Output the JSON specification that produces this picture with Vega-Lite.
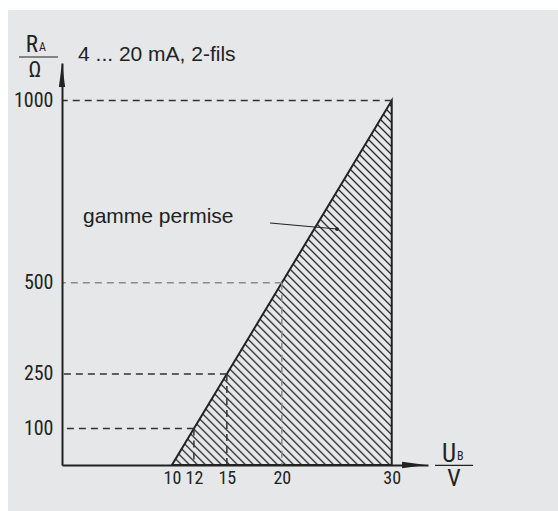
{
  "$schema": "https://vega.github.io/schema/vega-lite/v6.json",
  "width": 366,
  "height": 402,
  "autosize": {"type": "none"},
  "padding": {"left": 62, "top": 63, "right": 130, "bottom": 46},
  "background": "#ffffff",
  "config": {"view": {"stroke": null}},
  "datasets": {
    "refs": [
      {"ub": 12, "ra": 100},
      {"ub": 15, "ra": 250},
      {"ub": 20, "ra": 500},
      {"ub": 30, "ra": 1000}
    ],
    "region": [
      {"ub": 10, "ra": 0},
      {"ub": 30, "ra": 1000}
    ],
    "one": [{}]
  },
  "layer": [
    {
      "data": {"name": "one"},
      "mark": {"type": "rect", "color": "#e6e7e9", "clip": false},
      "encoding": {
        "x": {"datum": -4.91, "type": "quantitative"},
        "x2": {"datum": 60},
        "y": {"datum": 1248.4, "type": "quantitative"},
        "y2": {"datum": -300}
      }
    },
    {
      "data": {"name": "region"},
      "mark": {
        "type": "area",
        "stroke": "#222",
        "strokeWidth": 2,
        "color": {
          "gradient": "linear",
          "x1": 0, "y1": 1, "x2": 0.7089, "y2": -0.1755,
          "stops": [
            {"offset":0.0000,"color":"#e6e7e9"},{"offset":0.0030,"color":"#222"},{"offset":0.0060,"color":"#e6e7e9"},
            {"offset":0.0137,"color":"#e6e7e9"},{"offset":0.0167,"color":"#222"},{"offset":0.0197,"color":"#e6e7e9"},
            {"offset":0.0274,"color":"#e6e7e9"},{"offset":0.0304,"color":"#222"},{"offset":0.0334,"color":"#e6e7e9"},
            {"offset":0.0411,"color":"#e6e7e9"},{"offset":0.0441,"color":"#222"},{"offset":0.0471,"color":"#e6e7e9"},
            {"offset":0.0548,"color":"#e6e7e9"},{"offset":0.0578,"color":"#222"},{"offset":0.0608,"color":"#e6e7e9"},
            {"offset":0.0685,"color":"#e6e7e9"},{"offset":0.0715,"color":"#222"},{"offset":0.0745,"color":"#e6e7e9"},
            {"offset":0.0822,"color":"#e6e7e9"},{"offset":0.0852,"color":"#222"},{"offset":0.0882,"color":"#e6e7e9"},
            {"offset":0.0959,"color":"#e6e7e9"},{"offset":0.0989,"color":"#222"},{"offset":0.1019,"color":"#e6e7e9"},
            {"offset":0.1096,"color":"#e6e7e9"},{"offset":0.1126,"color":"#222"},{"offset":0.1156,"color":"#e6e7e9"},
            {"offset":0.1233,"color":"#e6e7e9"},{"offset":0.1263,"color":"#222"},{"offset":0.1293,"color":"#e6e7e9"},
            {"offset":0.1370,"color":"#e6e7e9"},{"offset":0.1400,"color":"#222"},{"offset":0.1430,"color":"#e6e7e9"},
            {"offset":0.1507,"color":"#e6e7e9"},{"offset":0.1537,"color":"#222"},{"offset":0.1567,"color":"#e6e7e9"},
            {"offset":0.1644,"color":"#e6e7e9"},{"offset":0.1674,"color":"#222"},{"offset":0.1704,"color":"#e6e7e9"},
            {"offset":0.1781,"color":"#e6e7e9"},{"offset":0.1811,"color":"#222"},{"offset":0.1841,"color":"#e6e7e9"},
            {"offset":0.1918,"color":"#e6e7e9"},{"offset":0.1948,"color":"#222"},{"offset":0.1978,"color":"#e6e7e9"},
            {"offset":0.2055,"color":"#e6e7e9"},{"offset":0.2085,"color":"#222"},{"offset":0.2115,"color":"#e6e7e9"},
            {"offset":0.2192,"color":"#e6e7e9"},{"offset":0.2222,"color":"#222"},{"offset":0.2252,"color":"#e6e7e9"},
            {"offset":0.2329,"color":"#e6e7e9"},{"offset":0.2359,"color":"#222"},{"offset":0.2389,"color":"#e6e7e9"},
            {"offset":0.2466,"color":"#e6e7e9"},{"offset":0.2496,"color":"#222"},{"offset":0.2526,"color":"#e6e7e9"},
            {"offset":0.2603,"color":"#e6e7e9"},{"offset":0.2633,"color":"#222"},{"offset":0.2663,"color":"#e6e7e9"},
            {"offset":0.2740,"color":"#e6e7e9"},{"offset":0.2770,"color":"#222"},{"offset":0.2800,"color":"#e6e7e9"},
            {"offset":0.2877,"color":"#e6e7e9"},{"offset":0.2907,"color":"#222"},{"offset":0.2937,"color":"#e6e7e9"},
            {"offset":0.3014,"color":"#e6e7e9"},{"offset":0.3044,"color":"#222"},{"offset":0.3074,"color":"#e6e7e9"},
            {"offset":0.3151,"color":"#e6e7e9"},{"offset":0.3181,"color":"#222"},{"offset":0.3211,"color":"#e6e7e9"},
            {"offset":0.3288,"color":"#e6e7e9"},{"offset":0.3318,"color":"#222"},{"offset":0.3348,"color":"#e6e7e9"},
            {"offset":0.3425,"color":"#e6e7e9"},{"offset":0.3455,"color":"#222"},{"offset":0.3485,"color":"#e6e7e9"},
            {"offset":0.3562,"color":"#e6e7e9"},{"offset":0.3592,"color":"#222"},{"offset":0.3622,"color":"#e6e7e9"},
            {"offset":0.3699,"color":"#e6e7e9"},{"offset":0.3729,"color":"#222"},{"offset":0.3759,"color":"#e6e7e9"},
            {"offset":0.3836,"color":"#e6e7e9"},{"offset":0.3866,"color":"#222"},{"offset":0.3896,"color":"#e6e7e9"},
            {"offset":0.3973,"color":"#e6e7e9"},{"offset":0.4003,"color":"#222"},{"offset":0.4033,"color":"#e6e7e9"},
            {"offset":0.4110,"color":"#e6e7e9"},{"offset":0.4140,"color":"#222"},{"offset":0.4170,"color":"#e6e7e9"},
            {"offset":0.4247,"color":"#e6e7e9"},{"offset":0.4277,"color":"#222"},{"offset":0.4307,"color":"#e6e7e9"},
            {"offset":0.4384,"color":"#e6e7e9"},{"offset":0.4414,"color":"#222"},{"offset":0.4444,"color":"#e6e7e9"},
            {"offset":0.4521,"color":"#e6e7e9"},{"offset":0.4551,"color":"#222"},{"offset":0.4581,"color":"#e6e7e9"},
            {"offset":0.4658,"color":"#e6e7e9"},{"offset":0.4688,"color":"#222"},{"offset":0.4718,"color":"#e6e7e9"},
            {"offset":0.4795,"color":"#e6e7e9"},{"offset":0.4825,"color":"#222"},{"offset":0.4855,"color":"#e6e7e9"},
            {"offset":0.4932,"color":"#e6e7e9"},{"offset":0.4962,"color":"#222"},{"offset":0.4992,"color":"#e6e7e9"},
            {"offset":0.5069,"color":"#e6e7e9"},{"offset":0.5099,"color":"#222"},{"offset":0.5129,"color":"#e6e7e9"},
            {"offset":0.5206,"color":"#e6e7e9"},{"offset":0.5236,"color":"#222"},{"offset":0.5266,"color":"#e6e7e9"},
            {"offset":0.5343,"color":"#e6e7e9"},{"offset":0.5373,"color":"#222"},{"offset":0.5403,"color":"#e6e7e9"},
            {"offset":0.5480,"color":"#e6e7e9"},{"offset":0.5510,"color":"#222"},{"offset":0.5540,"color":"#e6e7e9"},
            {"offset":0.5617,"color":"#e6e7e9"},{"offset":0.5647,"color":"#222"},{"offset":0.5677,"color":"#e6e7e9"},
            {"offset":0.5754,"color":"#e6e7e9"},{"offset":0.5784,"color":"#222"},{"offset":0.5814,"color":"#e6e7e9"},
            {"offset":0.5891,"color":"#e6e7e9"},{"offset":0.5921,"color":"#222"},{"offset":0.5951,"color":"#e6e7e9"},
            {"offset":0.6028,"color":"#e6e7e9"},{"offset":0.6058,"color":"#222"},{"offset":0.6088,"color":"#e6e7e9"},
            {"offset":0.6165,"color":"#e6e7e9"},{"offset":0.6195,"color":"#222"},{"offset":0.6225,"color":"#e6e7e9"},
            {"offset":0.6302,"color":"#e6e7e9"},{"offset":0.6332,"color":"#222"},{"offset":0.6362,"color":"#e6e7e9"},
            {"offset":0.6439,"color":"#e6e7e9"},{"offset":0.6469,"color":"#222"},{"offset":0.6499,"color":"#e6e7e9"},
            {"offset":0.6576,"color":"#e6e7e9"},{"offset":0.6606,"color":"#222"},{"offset":0.6636,"color":"#e6e7e9"},
            {"offset":0.6713,"color":"#e6e7e9"},{"offset":0.6743,"color":"#222"},{"offset":0.6773,"color":"#e6e7e9"},
            {"offset":0.6850,"color":"#e6e7e9"},{"offset":0.6880,"color":"#222"},{"offset":0.6910,"color":"#e6e7e9"},
            {"offset":0.6987,"color":"#e6e7e9"},{"offset":0.7017,"color":"#222"},{"offset":0.7047,"color":"#e6e7e9"},
            {"offset":0.7124,"color":"#e6e7e9"},{"offset":0.7154,"color":"#222"},{"offset":0.7184,"color":"#e6e7e9"},
            {"offset":0.7261,"color":"#e6e7e9"},{"offset":0.7291,"color":"#222"},{"offset":0.7321,"color":"#e6e7e9"},
            {"offset":0.7398,"color":"#e6e7e9"},{"offset":0.7428,"color":"#222"},{"offset":0.7458,"color":"#e6e7e9"},
            {"offset":0.7535,"color":"#e6e7e9"},{"offset":0.7565,"color":"#222"},{"offset":0.7595,"color":"#e6e7e9"},
            {"offset":0.7672,"color":"#e6e7e9"},{"offset":0.7702,"color":"#222"},{"offset":0.7732,"color":"#e6e7e9"},
            {"offset":0.7809,"color":"#e6e7e9"},{"offset":0.7839,"color":"#222"},{"offset":0.7869,"color":"#e6e7e9"},
            {"offset":0.7946,"color":"#e6e7e9"},{"offset":0.7976,"color":"#222"},{"offset":0.8006,"color":"#e6e7e9"},
            {"offset":0.8083,"color":"#e6e7e9"},{"offset":0.8113,"color":"#222"},{"offset":0.8143,"color":"#e6e7e9"},
            {"offset":0.8220,"color":"#e6e7e9"},{"offset":0.8250,"color":"#222"},{"offset":0.8280,"color":"#e6e7e9"},
            {"offset":0.8357,"color":"#e6e7e9"},{"offset":0.8387,"color":"#222"},{"offset":0.8417,"color":"#e6e7e9"},
            {"offset":0.8494,"color":"#e6e7e9"},{"offset":0.8524,"color":"#222"},{"offset":0.8554,"color":"#e6e7e9"},
            {"offset":0.8631,"color":"#e6e7e9"},{"offset":0.8661,"color":"#222"},{"offset":0.8691,"color":"#e6e7e9"},
            {"offset":0.8768,"color":"#e6e7e9"},{"offset":0.8798,"color":"#222"},{"offset":0.8828,"color":"#e6e7e9"},
            {"offset":0.8905,"color":"#e6e7e9"},{"offset":0.8935,"color":"#222"},{"offset":0.8965,"color":"#e6e7e9"},
            {"offset":0.9042,"color":"#e6e7e9"},{"offset":0.9072,"color":"#222"},{"offset":0.9102,"color":"#e6e7e9"},
            {"offset":0.9179,"color":"#e6e7e9"},{"offset":0.9209,"color":"#222"},{"offset":0.9239,"color":"#e6e7e9"},
            {"offset":0.9316,"color":"#e6e7e9"},{"offset":0.9346,"color":"#222"},{"offset":0.9376,"color":"#e6e7e9"},
            {"offset":0.9453,"color":"#e6e7e9"},{"offset":0.9483,"color":"#222"},{"offset":0.9513,"color":"#e6e7e9"},
            {"offset":0.9590,"color":"#e6e7e9"},{"offset":0.9620,"color":"#222"},{"offset":0.9650,"color":"#e6e7e9"},
            {"offset":0.9727,"color":"#e6e7e9"},{"offset":0.9757,"color":"#222"},{"offset":0.9787,"color":"#e6e7e9"},
            {"offset":0.9864,"color":"#e6e7e9"},{"offset":0.9894,"color":"#222"},{"offset":0.9924,"color":"#e6e7e9"},
            {"offset":1,"color":"#e6e7e9"}
          ]
        }
      },
      "encoding": {
        "x": {
          "field": "ub", "type": "quantitative",
          "scale": {"domain": [0, 33.3], "nice": false, "zero": false},
          "axis": {
            "title": null, "values": [10, 12, 15, 20, 30], "grid": false, "zindex": 1,
            "ticks": false, "tickSize": 0, "labelPadding": 4,
            "labelFont": "Roboto Condensed, DejaVu Sans Condensed, sans-serif",
            "labelFontSize": 18, "labelColor": "#222",
            "domainColor": "#222", "domainWidth": 2,
            "labelFlush": false, "labelOverlap": false
          }
        },
        "y": {
          "field": "ra", "type": "quantitative",
          "scale": {"domain": [0, 1103], "nice": false, "zero": false},
          "axis": {
            "title": null, "values": [100, 250, 500, 1000], "format": "d", "grid": false, "zindex": 1,
            "ticks": false, "tickSize": 0, "labelPadding": 9,
            "labelFont": "Roboto Condensed, DejaVu Sans Condensed, sans-serif",
            "labelFontSize": 20, "labelColor": "#222",
            "domainColor": "#222", "domainWidth": 2,
            "labelFlush": false, "labelOverlap": false
          }
        }
      }
    },
    {
      "data": {"name": "refs"},
      "mark": {"type": "rule", "strokeDash": [7, 5], "strokeWidth": 1.5},
      "encoding": {
        "x": {"field": "ub", "type": "quantitative"},
        "x2": {"datum": 0},
        "y": {"field": "ra", "type": "quantitative"},
        "color": {"condition": {"test": "datum.ra === 500", "value": "#8a8a8a"}, "value": "#333"}
      }
    },
    {
      "data": {"name": "refs"},
      "transform": [{"filter": "datum.ra < 1000"}],
      "mark": {"type": "rule", "strokeDash": [7, 5], "strokeWidth": 1.5},
      "encoding": {
        "x": {"field": "ub", "type": "quantitative"},
        "y": {"field": "ra", "type": "quantitative"},
        "y2": {"datum": 0},
        "color": {"condition": {"test": "datum.ra === 500", "value": "#8a8a8a"}, "value": "#333"}
      }
    },
    {
      "data": {"name": "one"},
      "mark": {"type": "rule", "color": "#222", "strokeWidth": 1.2},
      "encoding": {
        "x": {"datum": 18.93, "type": "quantitative"},
        "y": {"datum": 664, "type": "quantitative"},
        "x2": {"datum": 25.02},
        "y2": {"datum": 647.5}
      }
    },
    {
      "data": {"name": "one"},
      "mark": {"type": "point", "filled": true, "color": "#222", "size": 14, "opacity": 1},
      "encoding": {
        "x": {"datum": 25.02, "type": "quantitative"},
        "y": {"datum": 647.5, "type": "quantitative"}
      }
    },
    {
      "data": {"name": "one"},
      "mark": {"type": "point", "filled": true, "color": "#222", "opacity": 1, "size": 576, "shape": "M0,-1L0.26,1L-0.26,1Z"},
      "encoding": {
        "x": {"datum": 0, "type": "quantitative"},
        "y": {"datum": 1070, "type": "quantitative"}
      }
    },
    {
      "data": {"name": "one"},
      "mark": {"type": "point", "filled": true, "color": "#222", "opacity": 1, "size": 576, "shape": "M1,0L-1,-0.28L-1,0.28Z"},
      "encoding": {
        "x": {"datum": 32.03, "type": "quantitative"},
        "y": {"datum": 0, "type": "quantitative"}
      }
    },
    {
      "data": {"name": "one"},
      "mark": {"type": "rule", "color": "#222", "strokeWidth": 1.2},
      "encoding": {
        "x": {"datum": -3.91, "type": "quantitative"},
        "x2": {"datum": -0.36},
        "y": {"datum": 1119.5, "type": "quantitative"}
      }
    },
    {
      "data": {"name": "one"},
      "mark": {"type": "rule", "color": "#222", "strokeWidth": 1.2},
      "encoding": {
        "x": {"datum": 33.94, "type": "quantitative"},
        "x2": {"datum": 37.4},
        "y": {"datum": -1, "type": "quantitative"}
      }
    },
    {
      "data": {"name": "one"},
      "mark": {"type": "text", "text": "4 ... 20 mA, 2-fils", "font": "Liberation Sans, Arial, sans-serif", "fontSize": 21, "align": "left", "baseline": "alphabetic", "color": "#222"},
      "encoding": {
        "x": {"datum": 1.46, "type": "quantitative"},
        "y": {"datum": 1108.5, "type": "quantitative"}
      }
    },
    {
      "data": {"name": "one"},
      "mark": {"type": "text", "text": "gamme permise", "font": "Liberation Sans, Arial, sans-serif", "fontSize": 21, "align": "left", "baseline": "alphabetic", "color": "#222"},
      "encoding": {
        "x": {"datum": 1.91, "type": "quantitative"},
        "y": {"datum": 664, "type": "quantitative"}
      }
    },
    {
      "data": {"name": "one"},
      "mark": {"type": "text", "text": "R", "font": "Roboto Condensed, DejaVu Sans Condensed, sans-serif", "fontSize": 23, "align": "right", "baseline": "alphabetic", "color": "#222"},
      "encoding": {
        "x": {"datum": -2.18, "type": "quantitative"},
        "y": {"datum": 1133, "type": "quantitative"}
      }
    },
    {
      "data": {"name": "one"},
      "mark": {"type": "text", "text": "A", "font": "Roboto Condensed, DejaVu Sans Condensed, sans-serif", "fontSize": 12, "align": "left", "baseline": "alphabetic", "color": "#222"},
      "encoding": {
        "x": {"datum": -2.09, "type": "quantitative"},
        "y": {"datum": 1136, "type": "quantitative"}
      }
    },
    {
      "data": {"name": "one"},
      "mark": {"type": "text", "text": "Ω", "font": "Roboto Condensed, DejaVu Sans Condensed, sans-serif", "fontSize": 22, "align": "center", "baseline": "alphabetic", "color": "#222"},
      "encoding": {
        "x": {"datum": -2.46, "type": "quantitative"},
        "y": {"datum": 1064.6, "type": "quantitative"}
      }
    },
    {
      "data": {"name": "one"},
      "mark": {"type": "text", "text": "U", "font": "Roboto Condensed, DejaVu Sans Condensed, sans-serif", "fontSize": 25, "align": "right", "baseline": "alphabetic", "color": "#222"},
      "encoding": {
        "x": {"datum": 35.85, "type": "quantitative"},
        "y": {"datum": 8.2, "type": "quantitative"}
      }
    },
    {
      "data": {"name": "one"},
      "mark": {"type": "text", "text": "B", "font": "Roboto Condensed, DejaVu Sans Condensed, sans-serif", "fontSize": 12, "align": "left", "baseline": "alphabetic", "color": "#222"},
      "encoding": {
        "x": {"datum": 35.94, "type": "quantitative"},
        "y": {"datum": 13.7, "type": "quantitative"}
      }
    },
    {
      "data": {"name": "one"},
      "mark": {"type": "text", "text": "V", "font": "Roboto Condensed, DejaVu Sans Condensed, sans-serif", "fontSize": 24, "align": "center", "baseline": "alphabetic", "color": "#222"},
      "encoding": {
        "x": {"datum": 35.67, "type": "quantitative"},
        "y": {"datum": -57.6, "type": "quantitative"}
      }
    }
  ]
}
